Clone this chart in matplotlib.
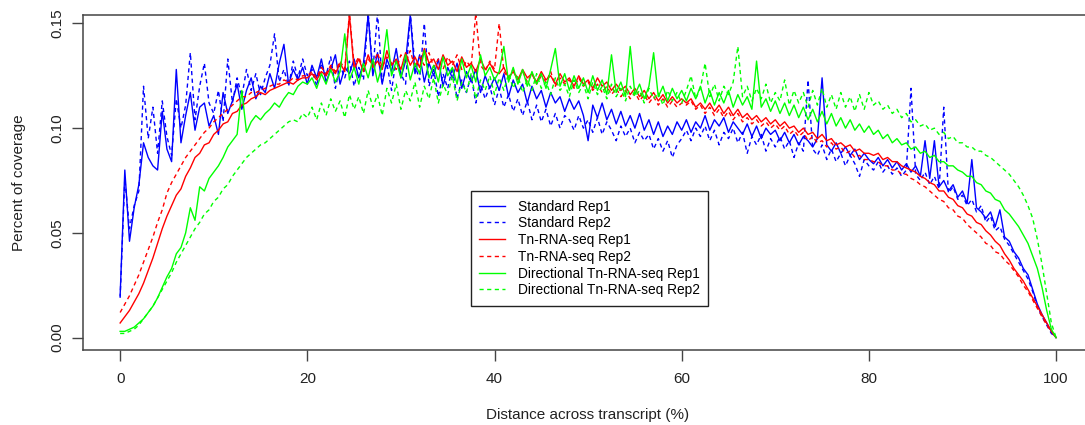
import numpy as np
import matplotlib
matplotlib.use("Agg")
import matplotlib.pyplot as plt
from matplotlib.lines import Line2D

plt.rcParams['font.family'] = ['Liberation Sans', 'DejaVu Sans']

# Distance across transcript (%), sampled every 0.5 %
distance = np.linspace(0, 100, 201)

# Percent of coverage, in thousandths
standard_rep1 = [
    20, 80, 46, 62, 73, 93, 86, 82, 80, 108, 90, 84, 128, 93, 106, 117, 99, 110, 112, 101,
    106, 97, 117, 107, 113, 121, 109, 118, 124, 114, 120, 117, 126, 119, 131, 140, 121, 128, 123, 129, 121,
    130, 124, 133, 122, 128, 135, 121, 129, 126, 133, 124, 131, 154, 125, 136, 121, 133, 127, 138, 124,
    132, 154, 126, 135, 122, 131, 125, 133, 120, 129, 124, 131, 119, 127, 122, 128, 117, 125, 119, 124,
    118, 126, 115, 123, 117, 121, 112, 120, 114, 118, 110, 117, 112, 115, 108, 114, 109, 113, 106, 94,
    111, 105, 112, 104, 109, 102, 108, 101, 106, 100, 107, 99, 104, 97, 103, 96, 101, 97, 103, 99,
    104, 98, 103, 100, 106, 99, 104, 101, 105, 98, 103, 100, 97, 102, 96, 101, 95, 100, 97, 99,
    94, 98, 93, 97, 92, 96, 94, 91, 95, 124, 92, 89, 93, 88, 91, 87, 90, 85, 88, 85,
    83, 86, 82, 85, 81, 84, 80, 83, 79, 82, 77, 94, 76, 94, 72, 75, 70, 73, 67, 70,
    64, 85, 62, 60, 57, 60, 53, 61, 48, 46, 41, 38, 33, 30, 23, 16, 11, 7, 3, 0]

standard_rep2 = [
    19, 76, 52, 63, 70, 120, 95, 110, 88, 113, 96, 87, 114, 100, 111, 136, 104, 120, 131, 112,
    107, 118, 103, 133, 112, 124, 115, 128, 118, 126, 116, 124, 130, 145, 122, 128, 120, 132, 124, 133, 125,
    128, 120, 131, 125, 134, 119, 130, 124, 132, 120, 129, 123, 155, 127, 155, 122, 131, 118, 133, 126,
    121, 155, 130, 123, 150, 120, 128, 115, 126, 119, 129, 114, 123, 117, 125, 112, 121, 114, 120, 111,
    119, 110, 116, 108, 114, 106, 113, 104, 111, 103, 109, 101, 107, 100, 106, 104, 99, 106, 100, 104,
    98, 105, 97, 103, 99, 94, 101, 96, 100, 93, 98, 94, 97, 90, 95, 89, 94, 86, 92, 95,
    99, 94, 100, 96, 101, 94, 99, 92, 98, 95, 100, 93, 98, 88, 96, 92, 97, 89, 95, 91,
    96, 90, 94, 86, 93, 89, 123, 90, 87, 92, 85, 90, 84, 88, 82, 87, 83, 77, 85, 82,
    80, 84, 79, 82, 78, 81, 77, 80, 119, 78, 75, 79, 73, 77, 71, 110, 69, 72, 66, 68,
    63, 66, 60, 63, 55, 58, 51, 53, 47, 44, 40, 36, 32, 28, 22, 15, 10, 6, 2, 0]

tn_rep1 = [
    7, 10, 13, 17, 21, 26, 32, 38, 45, 52, 58, 63, 68, 71, 77, 81, 86, 88, 92, 93,
    97, 99, 102, 103, 107, 108, 111, 112, 114, 115, 117, 116, 118, 119, 120, 121, 122, 121, 123, 124, 124,
    126, 123, 127, 125, 129, 126, 131, 127, 154, 128, 133, 127, 135, 129, 132, 128, 137, 130, 133, 128,
    136, 130, 134, 129, 138, 131, 133, 128, 135, 130, 132, 127, 134, 129, 131, 127, 133, 128, 131, 127,
    126, 129, 124, 127, 123, 128, 124, 126, 122, 127, 123, 125, 121, 126, 122, 124, 120, 125, 121, 123,
    119, 124, 120, 122, 118, 121, 118, 120, 116, 119, 115, 118, 114, 117, 113, 116, 112, 115, 112, 114,
    112, 114, 110, 112, 109, 112, 108, 111, 107, 110, 106, 109, 105, 107, 104, 106, 103, 105, 102, 104,
    101, 103, 100, 101, 98, 100, 97, 98, 95, 97, 94, 95, 92, 93, 91, 92, 89, 90, 88, 88,
    87, 88, 85, 86, 84, 84, 82, 81, 80, 79, 77, 76, 74, 73, 70, 70, 67, 66, 63, 62,
    59, 58, 55, 54, 51, 49, 46, 44, 40, 37, 33, 30, 27, 23, 19, 15, 11, 7, 3, 0]

tn_rep2 = [
    12, 16, 20, 25, 30, 36, 42, 48, 55, 61, 69, 74, 78, 82, 86, 89, 92, 95, 98, 100,
    103, 105, 107, 109, 111, 113, 115, 115, 117, 117, 118, 119, 120, 121, 121, 123, 122, 124, 123, 125, 125,
    127, 124, 129, 126, 130, 127, 132, 128, 155, 130, 134, 128, 133, 130, 136, 129, 134, 131, 128, 135,
    131, 137, 129, 134, 130, 136, 129, 133, 128, 134, 130, 135, 128, 132, 129, 155, 130, 127, 132, 128,
    150, 127, 124, 128, 123, 127, 122, 126, 121, 125, 122, 127, 120, 124, 121, 123, 119, 124, 120, 122,
    118, 121, 117, 120, 116, 119, 115, 118, 114, 117, 113, 116, 112, 115, 111, 114, 110, 113, 110, 112,
    111, 113, 109, 111, 107, 110, 106, 109, 105, 108, 104, 107, 103, 105, 102, 104, 101, 103, 100, 102,
    99, 101, 97, 99, 96, 98, 94, 96, 93, 94, 91, 93, 90, 91, 88, 89, 86, 87, 85, 85,
    84, 84, 82, 82, 80, 80, 78, 78, 76, 75, 73, 72, 70, 68, 66, 65, 62, 61, 58, 57,
    54, 52, 50, 48, 45, 44, 41, 40, 37, 35, 32, 29, 25, 22, 18, 14, 10, 6, 3, 0]

dir_rep1 = [
    3, 3, 4, 5, 7, 9, 12, 15, 19, 24, 29, 33, 40, 43, 50, 62, 56, 72, 70, 76,
    79, 82, 86, 91, 94, 97, 118, 98, 103, 106, 104, 107, 109, 112, 110, 114, 117, 116, 120, 122, 121,
    124, 119, 126, 121, 128, 122, 127, 145, 123, 129, 121, 131, 124, 133, 122, 130, 147, 125, 132, 124,
    135, 123, 131, 126, 137, 124, 130, 122, 134, 125, 129, 121, 133, 124, 130, 122, 135, 125, 129, 123,
    127, 139, 122, 129, 121, 128, 120, 127, 121, 126, 119, 128, 138, 120, 126, 118, 125, 119, 124, 117,
    125, 118, 123, 116, 135, 117, 122, 115, 139, 116, 121, 114, 120, 136, 115, 120, 113, 119, 114, 118,
    113, 119, 114, 120, 112, 118, 111, 117, 112, 118, 110, 116, 111, 115, 109, 132, 110, 114, 108, 113,
    107, 112, 106, 111, 105, 110, 104, 109, 103, 108, 102, 107, 101, 105, 100, 104, 99, 102, 98, 101,
    97, 99, 95, 97, 93, 95, 92, 93, 90, 91, 88, 89, 86, 87, 84, 84, 82, 82, 80, 79,
    77, 77, 74, 73, 70, 69, 66, 65, 61, 59, 56, 53, 49, 45, 39, 33, 24, 13, 4, 0]

dir_rep2 = [
    2, 2, 3, 4, 6, 9, 12, 15, 19, 23, 27, 31, 36, 40, 44, 48, 52, 55, 59, 61,
    65, 67, 71, 73, 77, 80, 83, 86, 88, 90, 92, 93, 95, 97, 99, 101, 103, 104, 103, 107, 105,
    110, 104, 112, 106, 114, 108, 113, 105, 116, 109, 115, 107, 118, 110, 116, 106, 119, 112, 121, 109,
    118, 113, 122, 110, 120, 114, 124, 112, 121, 116, 125, 113, 122, 117, 126, 114, 123, 118, 125, 116,
    124, 118, 126, 119, 125, 117, 123, 118, 126, 119, 122, 116, 124, 118, 121, 115, 123, 117, 121, 114,
    122, 116, 120, 114, 121, 115, 119, 113, 120, 115, 118, 112, 119, 114, 117, 111, 118, 113, 117, 112,
    118, 125, 114, 119, 131, 115, 121, 113, 120, 116, 122, 139, 115, 120, 113, 119, 114, 121, 112, 117,
    113, 123, 111, 118, 112, 117, 110, 118, 111, 119, 110, 116, 109, 117, 110, 115, 108, 116, 109, 117,
    111, 113, 109, 111, 107, 109, 105, 107, 103, 104, 101, 102, 99, 100, 97, 98, 95, 96, 93, 93,
    91, 91, 89, 89, 87, 86, 84, 82, 80, 78, 75, 72, 68, 63, 57, 47, 35, 21, 7, 0]

labels = ["Standard Rep1", "Standard Rep2", "Tn-RNA-seq Rep1", "Tn-RNA-seq Rep2",
          "Directional Tn-RNA-seq Rep1", "Directional Tn-RNA-seq Rep2"]
series = [standard_rep1, standard_rep2, tn_rep1, tn_rep2, dir_rep1, dir_rep2]
colors = ["#0000FF", "#0000FF", "#FF0000", "#FF0000", "#00FF00", "#00FF00"]
styles = ["-", (0, (3, 2.5)), "-", (0, (3, 2.5)), "-", (0, (3, 2.5))]

W, H = 1085, 425
fig = plt.figure(figsize=(W / 100, H / 100), dpi=100)
left, right, top, bottom = 82.7, 1093.5, 15, 350
ax = fig.add_axes([left / W, 1 - bottom / H, (right - left) / W, (bottom - top) / H])

for vals, c, ls in zip(series, colors, styles):
    ax.plot(distance, np.asarray(vals) / 1000.0, color=c, linestyle=ls, lw=1.0)

ax.set_xlim(-4, 104)
ax.set_ylim(-0.0059, 0.154)

ax.set_xticks([0, 20, 40, 60, 80, 100])
ax.set_yticks([0.0, 0.05, 0.10, 0.15])
ax.set_yticklabels(["0.00", "0.05", "0.10", "0.15"], rotation=90, va="center")
ax.tick_params(axis="both", length=8, width=1, color="#444444", labelsize=11,
               labelcolor="#222222")
ax.tick_params(axis="x", pad=7.5)
ax.tick_params(axis="y", pad=5.5)
for s in ax.spines.values():
    s.set_color("#444444")
    s.set_linewidth(1.1)

fig.text(588 / W, 1 - 415 / H, "Distance across transcript (%)", ha="center", va="center",
         fontsize=11, color="#222222")
fig.text(19.5 / W, 1 - 182.5 / H, "Percent of coverage", ha="center", va="center",
         rotation=90, fontsize=11, color="#222222")

handles = [Line2D([], [], color=c, linestyle=ls, lw=1.0) for c, ls in zip(colors, styles)]
leg = ax.legend(handles, labels, loc="upper left",
                bbox_to_anchor=(470.7 / W, 1 - 191 / H), bbox_transform=fig.transFigure,
                fontsize=9.9, handlelength=1.85, handletextpad=0.95, borderaxespad=0,
                borderpad=0.62, labelspacing=0.2, fancybox=False, framealpha=1)
leg.get_frame().set_edgecolor("#222222")
leg.get_frame().set_linewidth(1.0)

fig.savefig("out.png", dpi=100)
